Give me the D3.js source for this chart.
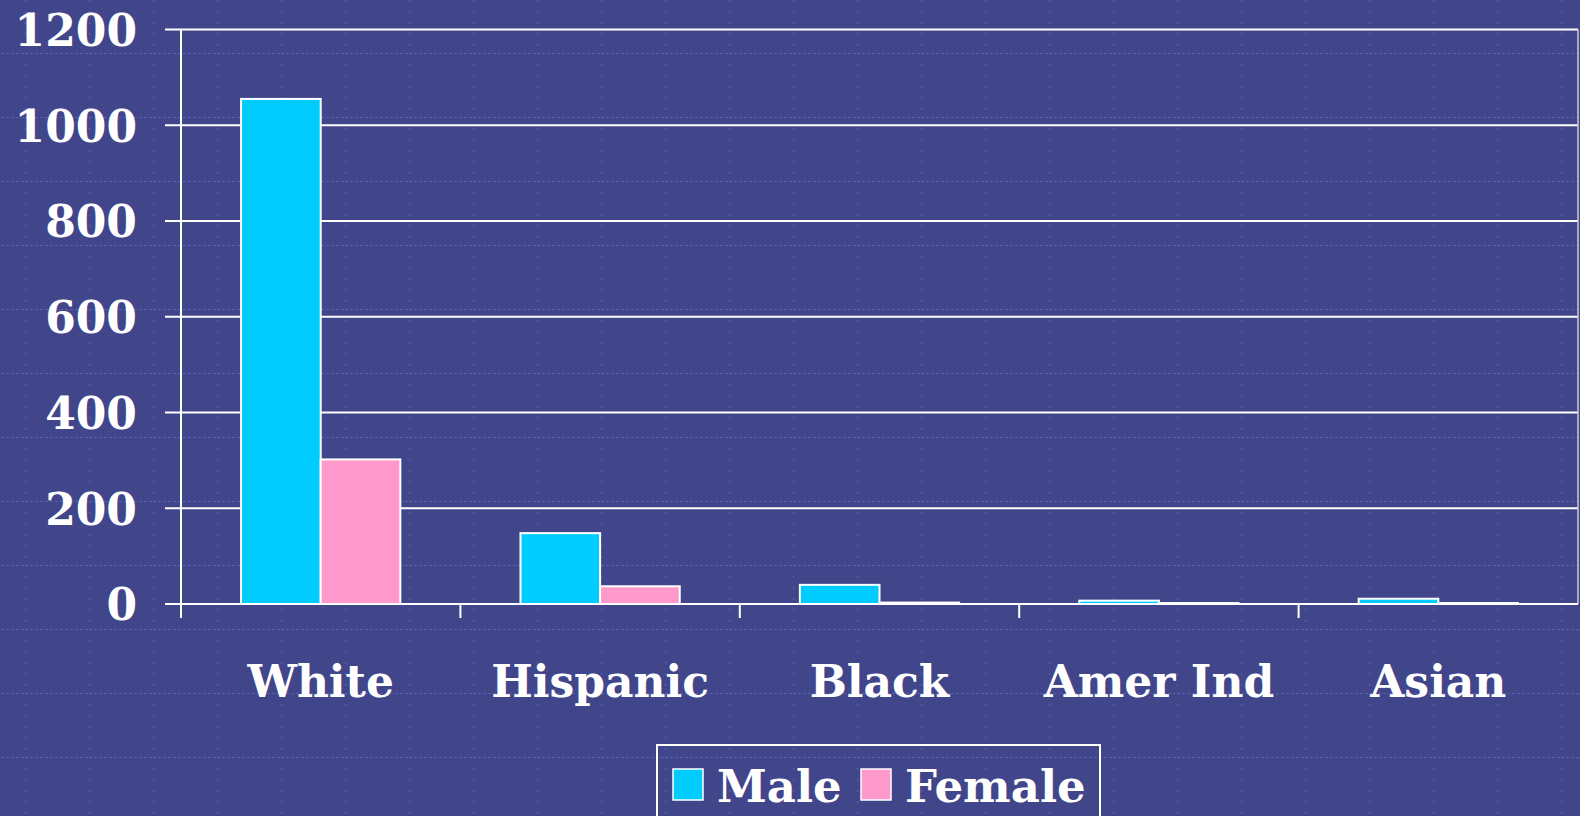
<!DOCTYPE html>
<html>
<head>
<meta charset="utf-8">
<script src="https://cdn.jsdelivr.net/npm/d3@7"></script>
<style>
  html, body { margin: 0; padding: 0; background: #41468b; overflow: hidden; }
  text { font-family: "DejaVu Serif", serif; font-weight: bold; fill: #fff; }
</style>
</head>
<body>
<script>
var categories = ['White', 'Hispanic', 'Black', 'Amer Ind', 'Asian'];
var male = [1055, 148, 40, 7, 11];
var female = [302, 37, 3, 2, 2];
var yTicks = [0, 200, 400, 600, 800, 1000, 1200];
var seriesNames = ['Male', 'Female'];
var seriesColors = ['#00ccff', '#ff99cc'];

var screen = { width: 1580, height: 816 };
var plot = { left: 181, right: 1578, top: 29.5, bottom: 604 };

var svg = d3.select('body')
            .append('svg')
            .attr('width', screen.width)
            .attr('height', screen.height);

// dotted background pattern
var pat = svg.append('defs').append('pattern')
             .attr('id', 'dots')
             .attr('patternUnits', 'userSpaceOnUse')
             .attr('width', 64).attr('height', 64)
             .attr('x', 25).attr('y', 53);
pat.append('line')
   .attr('x1', 0).attr('x2', 64).attr('y1', 0.5).attr('y2', 0.5)
   .attr('stroke', '#5660b0').attr('stroke-width', 1.2)
   .attr('stroke-dasharray', '3,2');
pat.append('line')
   .attr('x1', 0.5).attr('x2', 0.5).attr('y1', 0).attr('y2', 64)
   .attr('stroke', '#5660b0').attr('stroke-width', 1.2)
   .attr('stroke-dasharray', '2,9');
svg.append('rect')
   .attr('width', screen.width).attr('height', screen.height)
   .attr('fill', '#41468b');
svg.append('rect')
   .attr('width', screen.width).attr('height', screen.height)
   .attr('fill', 'url(#dots)');

var yScale = d3.scaleLinear()
               .domain([0, 1200])
               .range([plot.bottom, plot.top]);

var xScale = d3.scaleBand()
               .domain(categories)
               .range([plot.left, plot.right])
               .paddingInner(0.43)
               .paddingOuter(0.215);

var xSub = d3.scaleBand()
             .domain(seriesNames)
             .range([0, xScale.bandwidth()]);

// gridlines
svg.append('g').selectAll('line')
   .data(yTicks)
   .enter()
   .append('line')
   .attr('x1', plot.left - 16)
   .attr('x2', plot.right)
   .attr('y1', function(d){ return yScale(d); })
   .attr('y2', function(d){ return yScale(d); })
   .attr('stroke', '#fff')
   .attr('stroke-width', 2);

// right border
svg.append('line')
   .attr('x1', plot.right).attr('x2', plot.right)
   .attr('y1', yScale(1200)).attr('y2', yScale(0))
   .attr('stroke', '#c8c8d8').attr('stroke-width', 1.5);

// y axis labels
var yAxis = d3.axisLeft(yScale)
              .tickValues(yTicks)
              .tickFormat(d3.format('d'))
              .tickSize(0)
              .tickPadding(44);
var yg = svg.append('g')
            .attr('transform', 'translate(' + plot.left + ',0)')
            .call(yAxis);
yg.select('.domain').remove();
yg.selectAll('text')
  .attr('font-family', '"DejaVu Serif", serif')
  .attr('font-size', 44)
  .attr('font-weight', 'bold')
  .attr('fill', '#fff')
  .attr('dy', '0.36em');

// bars
var rows = categories.map(function(c, i){ return { cat: c, values: [male[i], female[i]] }; });
var groups = svg.append('g').selectAll('g')
                .data(rows)
                .enter()
                .append('g')
                .attr('transform', function(d){ return 'translate(' + xScale(d.cat) + ',0)'; });
groups.selectAll('rect')
      .data(function(d){ return d.values.map(function(v, j){ return { name: seriesNames[j], value: v, color: seriesColors[j] }; }); })
      .enter()
      .append('rect')
      .attr('x', function(d){ return xSub(d.name); })
      .attr('y', function(d){ return yScale(d.value); })
      .attr('width', xSub.bandwidth())
      .attr('height', function(d){ return yScale(0) - yScale(d.value); })
      .attr('fill', function(d){ return d.color; })
      .attr('stroke', '#fff')
      .attr('stroke-width', 2);

// y axis line
svg.append('line')
   .attr('x1', plot.left).attr('x2', plot.left)
   .attr('y1', yScale(1200)).attr('y2', yScale(0) + 14)
   .attr('stroke', '#fff').attr('stroke-width', 2);

// x axis baseline and category boundary ticks
var gap = (xScale.step() - xScale.bandwidth()) / 2;
svg.append('line')
   .attr('x1', plot.left).attr('x2', plot.right)
   .attr('y1', yScale(0)).attr('y2', yScale(0))
   .attr('stroke', '#fff').attr('stroke-width', 2);
svg.append('g').selectAll('line')
   .data(categories.slice(1))
   .enter()
   .append('line')
   .attr('x1', function(d){ return xScale(d) - gap; })
   .attr('x2', function(d){ return xScale(d) - gap; })
   .attr('y1', yScale(0))
   .attr('y2', yScale(0) + 14)
   .attr('stroke', '#fff').attr('stroke-width', 2);

svg.append('g').selectAll('text')
   .data(categories)
   .enter()
   .append('text')
   .attr('x', function(d){ return xScale(d) + xScale.bandwidth() / 2; })
   .attr('y', 697)
   .attr('text-anchor', 'middle')
   .attr('font-size', 44)
   .text(function(d){ return d; });

// legend
var legend = svg.append('g');
legend.append('rect')
      .attr('x', 657).attr('y', 745)
      .attr('width', 443).attr('height', 120)
      .attr('fill', 'none')
      .attr('stroke', '#fff').attr('stroke-width', 2);
var legendX = [673, 861];
var item = legend.selectAll('g.item')
                 .data(seriesNames)
                 .enter()
                 .append('g')
                 .attr('class', 'item')
                 .attr('transform', function(d, i){ return 'translate(' + legendX[i] + ',769)'; });
item.append('rect')
    .attr('width', 30).attr('height', 31)
    .attr('fill', function(d, i){ return seriesColors[i]; })
    .attr('stroke', '#fff').attr('stroke-width', 1.5);
item.append('text')
    .attr('x', 44)
    .attr('y', 33)
    .attr('font-size', 45)
    .text(function(d){ return d; });
</script>
</body>
</html>
